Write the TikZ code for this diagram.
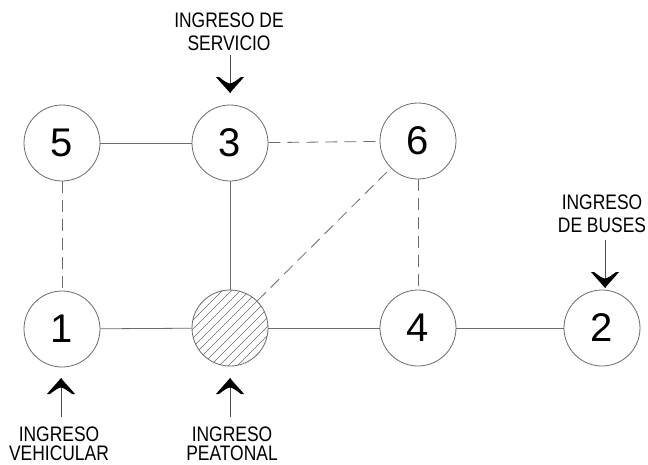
\documentclass[tikz,border=0pt]{standalone}
\usepackage{fontspec}
\setmainfont{Liberation Sans}
\newcommand{\sx}[1]{\scalebox{0.83}[1]{#1}}
\tikzset{
  ln/.style={draw=black!58, line width=0.8pt},
  dsh/.style={ln, dash pattern=on 12pt off 7pt},
  rnode/.style={circle, draw=black!58, line width=0.8pt, minimum size=76pt, inner sep=0pt, font=\fontsize{40}{40}\selectfont},
  lbl/.style={anchor=base, inner sep=0pt, font=\fontsize{21}{23}\selectfont},
  entryhead/.pic={\fill[black] (0,0) .. controls (-4,-5) and (-9,-10) .. (-14,-16) -- (-11,-16) .. controls (-6,-12) and (-2,-9.5) .. (0,-9.5) .. controls (2,-9.5) and (6,-12) .. (11,-16) -- (14,-16) .. controls (9,-10) and (4,-5) .. (0,0) -- cycle;}
}
\begin{document}
\begin{tikzpicture}[x=1pt,y=-1pt]
\fill[white] (0,0) rectangle (648,464);
\useasboundingbox (0,0) rectangle (648,464);
% nodes
\node[rnode] (n5) at (62,143) {5};
\node[rnode] (n3) at (230,143) {3};
\node[rnode] (n6) at (418,141) {6};
\node[rnode] (n1) at (62,329) {1};
\node[rnode] (nP) at (230,328) {};
\node[rnode] (n4) at (418,328) {4};
\node[rnode] (n2) at (602,328) {2};
% hatch
\begin{scope}
  \clip (nP.center) circle (38pt);
  \foreach \d in {-90,-81,...,90}
    \draw[black!58, line width=0.5pt] ([shift={(\d-60,60)}]nP.center) -- ([shift={(\d+60,-60)}]nP.center);
\end{scope}
% connectors
\draw[ln] (n5) -- (n3);
\draw[dsh] (n3) -- (n6);
\draw[dsh] (n5) -- (n1);
\draw[ln] (n3) -- (nP);
\draw[dsh] (n6) -- (n4);
\draw[dsh] (nP) -- (n6);
\draw[ln] (n1) -- (nP);
\draw[ln] (nP) -- (n4);
\draw[ln] (n4) -- (n2);
% entries
\coordinate (sA) at (230,55); \coordinate (sT) at (230,93);
\coordinate (bA) at (605,240); \coordinate (bT) at (605,288);
\coordinate (vA) at (61,417); \coordinate (vT) at (61,378);
\coordinate (pA) at (230,417); \coordinate (pT) at (230,378);
\draw[black!70, line width=0.6pt] (sA) -- (sT);
\draw[black!70, line width=0.6pt] (bA) -- (bT);
\draw[black!70, line width=0.6pt] (vA) -- (vT);
\draw[black!70, line width=0.6pt] (pA) -- (pT);
\pic at (sT) {entryhead};
\pic at (bT) {entryhead};
\pic[rotate=180] at (vT) {entryhead};
\pic[rotate=180] at (pT) {entryhead};
% labels
\node[lbl] (ls1) at (229,27) {\sx{INGRESO DE}};
\node[lbl] (ls2) at (229,50) {\sx{SERVICIO}};
\node[lbl] (lb1) at (602,209) {\sx{INGRESO}};
\node[lbl] (lb2) at (602,232) {\sx{DE BUSES}};
\node[lbl] (lv1) at (59,441) {\sx{INGRESO}};
\node[lbl] (lv2) at (59,460) {\sx{VEHICULAR}};
\node[lbl] (lp1) at (232,441) {\sx{INGRESO}};
\node[lbl] (lp2) at (232,460) {\sx{PEATONAL}};
\end{tikzpicture}
\end{document}
